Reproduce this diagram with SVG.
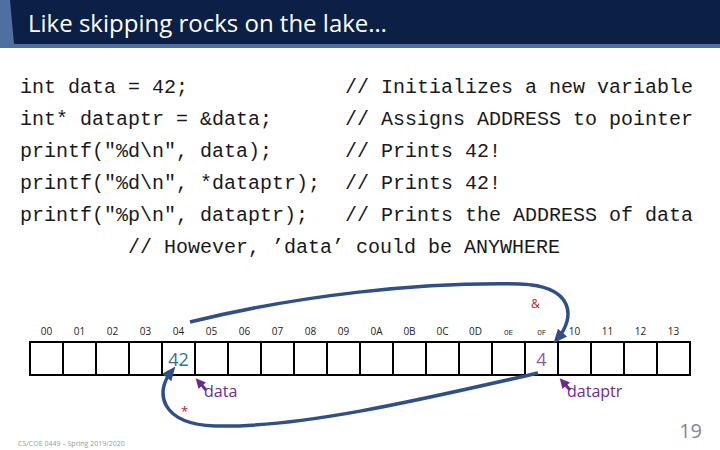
<svg xmlns="http://www.w3.org/2000/svg" width="720" height="450" viewBox="0 0 720 450">
<style>
.code{font-family:"Liberation Mono",monospace;font-size:20px;fill:#1a1a1a}
.addr{font-family:"Open Sans",sans-serif;font-size:10px;fill:#222;text-anchor:middle}
.cell{fill:#fff;stroke:#000;stroke-width:2}
.lbl{font-family:"Open Sans",sans-serif;font-size:16px;fill:#6a2c91}
.arc{fill:none;stroke:#2f4f86;stroke-width:3.5}
</style>
<defs>
<marker id="ah" markerUnits="userSpaceOnUse" markerWidth="14" markerHeight="14" refX="7" refY="7" orient="auto"><path d="M0,1L14,7L0,13z" fill="#2f4f86"/></marker>
<marker id="ph" markerUnits="userSpaceOnUse" markerWidth="10" markerHeight="10" refX="5" refY="5" orient="auto"><path d="M0,0L10,5L0,10z" fill="#6a2c91"/></marker>
</defs>
<rect width="720" height="450" fill="#fff"/>
<g id="title">
<rect x="0" y="0" width="720" height="44" fill="#0c1f44"/>
<path d="M0,0L10,0L14,44L0,44z" fill="#4f6fa0"/>
<rect x="0" y="44" width="720" height="4" fill="#4f6fa0"/>
<text x="28" y="32" font-family="Open Sans,sans-serif" font-size="24" fill="#fff">Like skipping rocks on the lake…</text>
</g>
<g id="code" class="code" xml:space="preserve">
<text x="20" y="93">int data = 42;</text><text x="345" y="93">// Initializes a new variable</text>
<text x="20" y="125">int* dataptr = &amp;data;</text><text x="345" y="125">// Assigns ADDRESS to pointer</text>
<text x="20" y="157">printf("%d\n", data);</text><text x="345" y="157">// Prints 42!</text>
<text x="20" y="189">printf("%d\n", *dataptr);</text><text x="345" y="189">// Prints 42!</text>
<text x="20" y="221">printf("%p\n", dataptr);</text><text x="345" y="221">// Prints the ADDRESS of data</text>
<text x="128" y="253">// However, ’data’ could be ANYWHERE</text>
</g>
<g id="memory">
<g class="addr">
<text x="46.5" y="335">00</text><text x="79.5" y="335">01</text><text x="112.5" y="335">02</text><text x="145.5" y="335">03</text><text x="178.5" y="335">04</text><text x="211.5" y="335">05</text><text x="244.5" y="335">06</text><text x="277.5" y="335">07</text><text x="310.5" y="335">08</text><text x="343.5" y="335">09</text><text x="376.5" y="335">0A</text><text x="409.5" y="335">0B</text><text x="442.5" y="335">0C</text><text x="475.5" y="335">0D</text><text x="508.5" y="335" font-size="8">0E</text><text x="541.5" y="335" font-size="8">0F</text><text x="574.5" y="335">10</text><text x="607.5" y="335">11</text><text x="640.5" y="335">12</text><text x="673.5" y="335">13</text>
</g>
<g>
<rect class="cell" x="30" y="342" width="33" height="33"/><rect class="cell" x="63" y="342" width="33" height="33"/><rect class="cell" x="96" y="342" width="33" height="33"/><rect class="cell" x="129" y="342" width="33" height="33"/><rect class="cell" x="162" y="342" width="33" height="33"/><rect class="cell" x="195" y="342" width="33" height="33"/><rect class="cell" x="228" y="342" width="33" height="33"/><rect class="cell" x="261" y="342" width="33" height="33"/><rect class="cell" x="294" y="342" width="33" height="33"/><rect class="cell" x="327" y="342" width="33" height="33"/><rect class="cell" x="360" y="342" width="33" height="33"/><rect class="cell" x="393" y="342" width="33" height="33"/><rect class="cell" x="426" y="342" width="33" height="33"/><rect class="cell" x="459" y="342" width="33" height="33"/><rect class="cell" x="492" y="342" width="33" height="33"/><rect class="cell" x="525" y="342" width="33" height="33"/><rect class="cell" x="558" y="342" width="33" height="33"/><rect class="cell" x="591" y="342" width="33" height="33"/><rect class="cell" x="624" y="342" width="33" height="33"/><rect class="cell" x="657" y="342" width="33" height="33"/>
</g>
<text x="178.5" y="366" text-anchor="middle" font-family="Open Sans,sans-serif" font-size="18" fill="#3b6c99">42</text>
<text x="541.5" y="366" text-anchor="middle" font-family="Open Sans,sans-serif" font-size="18" fill="#8a5aa6">4</text>
</g>
<g id="labels">
<path d="M206,390L199,382" stroke="#6a2c91" stroke-width="3" marker-end="url(#ph)"/>
<text class="lbl" x="204" y="397">data</text>
<path d="M570,390L563,382" stroke="#6a2c91" stroke-width="3" marker-end="url(#ph)"/>
<text class="lbl" x="567" y="397">dataptr</text>
<text x="531" y="308" font-family="Open Sans,sans-serif" font-size="12" fill="#b22222">&amp;</text>
<text x="181" y="416" font-family="Open Sans,sans-serif" font-size="13" fill="#b22222">*</text>
</g>
<g id="connectors">
<path class="arc" d="M190,322C300,295 420,282 520,284C575,286 575,318 558,338" marker-end="url(#ah)"/>
<path class="arc" d="M538,373C420,400 300,428 215,426C160,424 155,392 171,372" marker-end="url(#ah)"/>
</g>
<text x="18" y="446" font-family="Open Sans,sans-serif" font-size="7" fill="#999">CS/COE 0449 – Spring 2019/2020</text>
<text x="702" y="438" text-anchor="end" font-family="Open Sans,sans-serif" font-size="20" fill="#888">19</text>
</svg>
